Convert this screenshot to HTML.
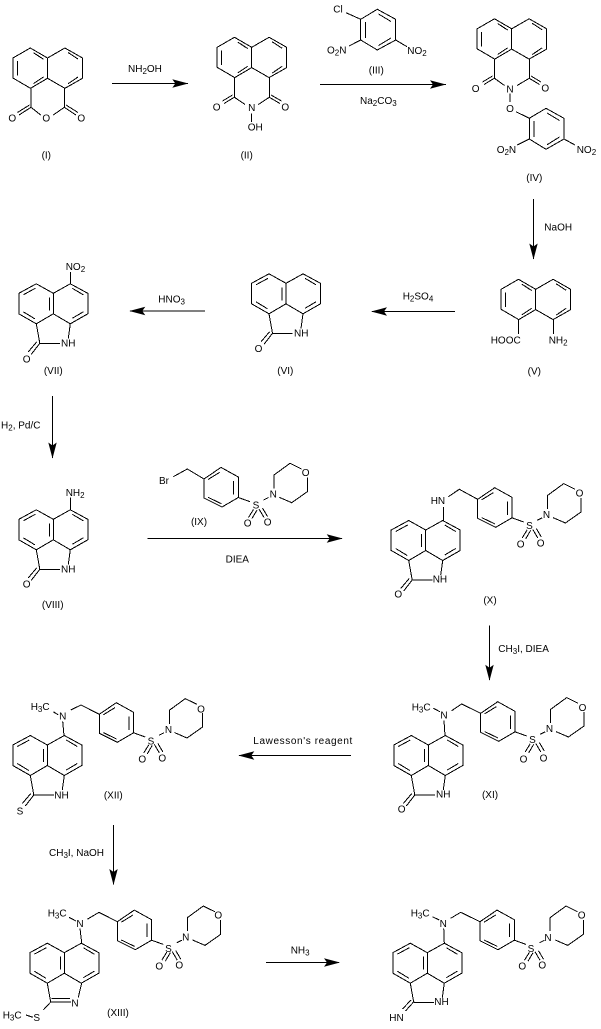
<!DOCTYPE html>
<html>
<head>
<meta charset="utf-8">
<style>
html,body{margin:0;padding:0;background:#fff;}
svg{display:block;}
line,path,polyline{stroke:#000;stroke-width:1;fill:none;shape-rendering:crispEdges;}
polygon{fill:#000;stroke:none;}
text{font-family:"Liberation Sans",sans-serif;font-size:10px;fill:#000;}
.m{text-anchor:middle;}
.s{font-size:8px;}
</style>
</head>
<body>
<svg width="601" height="1029" viewBox="0 0 601 1029" xmlns="http://www.w3.org/2000/svg">
<defs>
<g id="nap">
<path d="M-17,30.3 L-34.6,20 L-34.6,0 L-17.2,-10 L0,0 L17.4,-10 L35,0 L35,20.3 L17.4,30.3 L0,20.3 L-17,30.3"/>
<path d="M0,0 L0,20.3"/>
<path d="M-30,3 L-30,17.5 M-14,-5.3 L-4,1.3 M-14,25.6 L-4,19 M20.5,-5.5 L30.5,1 M20.5,25.8 L30.5,19"/>
</g>
<g id="benz">
<path d="M-17,30.5 L-34.5,20.5 L-34.5,0 L-17,-9.5 L0,0 L17,-9.5 L34.5,0 L34.5,20.5 L17,30.5 L0,20.5 L-17,30.5"/>
<path d="M0,0 L0,20.5 M-4,4 L-4,17"/>
<path d="M-30,1.5 L-18,-5 M-30,18.5 L-18.5,25.5 M19,-5 L30,1.5 M30,18.5 L19,25"/>
<path d="M-17,30.5 L-13.5,50"/>
</g>
<g id="lac">
<path d="M-13.5,50 L6.7,50 M17,30.5 L15,45"/>
</g>
<g id="co">
<path d="M-13.5,50 L-22,61 M-16.5,48.5 L-25,58.5"/>
</g>
<g id="mor">
<path d="M0,0 L17,-11.6 L34.3,-2 L34.3,18.5 L18,28 L0,19 Z"/>
<path d="M4,0.5 L15.7,-6.7 M29.7,2 L29.7,15.5 M4,18.3 L17.3,24.7"/>
<path d="M34.3,18.5 L46,22.7 M59.5,21 L64.5,18.5"/>
<path d="M70,9.5 L70,-4 L86,-15.7 L97.5,-10 M103.3,-1.5 L103.3,12.7 L87.7,23.7 L75.3,18.3"/>
<path d="M49.5,30.5 L44.5,38.5 M53,31 L48,39.5 M55,30 L60,38.5 M58.5,29 L63.5,37.5"/>
</g>
<polygon id="ah" points="0,0 -16,-4.2 -13,0 -16,4.2"/>
</defs>

<!-- I -->
<use href="#nap" x="47.5" y="58"/>
<path d="M31,88.3 L31,107.3 L40.7,115 M64.3,88.3 L64.3,107.3 L53.3,115"/>
<path d="M31,107.3 L19,115 M29.5,105 L17.5,112.5 M64.3,107.3 L76,115 M66,105 L78,112.5"/>
<text class="m" x="12.3" y="121.3">O</text>
<text class="m" x="46.3" y="121.3">O</text>
<text class="m" x="81.3" y="121.3">O</text>
<text class="m" x="46.3" y="158.5">(I)</text>

<!-- arrow 1 -->
<line x1="112" y1="83.5" x2="188" y2="83.5"/>
<use href="#ah" transform="translate(188.3,83.5)"/>
<text x="128" y="72">NH<tspan class="s" dy="2">2</tspan><tspan dy="-2">OH</tspan></text>

<!-- II -->
<use href="#nap" x="251.7" y="47.3"/>
<path d="M234.5,77.5 L234.5,97.3 L245,104.5 M269.3,77.5 L269.3,97.3 L258.3,104.5"/>
<path d="M234.3,97.3 L224,103.5 M232.5,95 L222.5,101 M269.3,97.3 L280,103.5 M271,95 L281.5,101"/>
<path d="M251.7,113.5 L251.7,122"/>
<text class="m" x="216.7" y="110.3">O</text>
<text class="m" x="285.3" y="110.3">O</text>
<text class="m" x="251.7" y="110.9">N</text>
<text x="247.7" y="130.7">OH</text>
<text class="m" x="246.7" y="158.5">(II)</text>

<!-- III -->
<path d="M360.7,19.3 L377.3,9.3 L395.7,19.3 L395.7,40 L377.3,50 L360.7,40 Z"/>
<path d="M365.3,22 L365.3,38 M378.5,14 L391,21.5 M378.5,45.5 L391,38"/>
<path d="M346,12.7 L360.7,19.3 M395.7,40 L407,46.7 M360.7,40 L349,46"/>
<text x="333.3" y="12.7">Cl</text>
<text x="327" y="53.5">O<tspan class="s" dy="2">2</tspan><tspan dy="-2">N</tspan></text>
<text x="407.3" y="54">NO<tspan class="s" dy="2">2</tspan></text>
<text class="m" x="376.3" y="73.5">(III)</text>

<!-- arrow 2 -->
<line x1="320" y1="84.5" x2="446" y2="84.5"/>
<use href="#ah" transform="translate(446,84.5)"/>
<text x="360" y="104">Na<tspan class="s" dy="2">2</tspan><tspan dy="-2">CO</tspan><tspan class="s" dy="2">3</tspan></text>

<!-- IV -->
<use href="#nap" x="511.7" y="28.8"/>
<path d="M494.5,59 L494.5,78.3 L504.5,85.5 M529.3,59 L529.3,78.3 L517,85.5"/>
<path d="M494.3,78.3 L484,84.5 M492.5,76 L482.5,82 M529.3,78.3 L539.5,84.5 M531,76 L541,82"/>
<path d="M510,93.5 L510,102 M516,111.7 L529.3,118.3"/>
<path d="M529.3,118.3 L546,108.3 L564,118.3 L564,139 L546,149.3 L529.3,139 Z"/>
<path d="M534,121 L534,137 M547,113 L559.5,120.5 M547,144.8 L559.5,137"/>
<path d="M564,139 L575,145 M529.3,139 L517.3,145"/>
<text class="m" x="475.7" y="92">O</text>
<text class="m" x="545.3" y="91.3">O</text>
<text class="m" x="510" y="92.3">N</text>
<text class="m" x="510" y="112">O</text>
<text x="496.7" y="153">O<tspan class="s" dy="2">2</tspan><tspan dy="-2">N</tspan></text>
<text x="576.7" y="153">NO<tspan class="s" dy="2">2</tspan></text>
<text class="m" x="534.3" y="181">(IV)</text>

<!-- NaOH arrow -->
<line x1="533.5" y1="199" x2="533.5" y2="259"/>
<use href="#ah" transform="translate(533.5,259.5) rotate(90)"/>
<text x="544.3" y="230.7">NaOH</text>

<!-- V -->
<use href="#nap" x="535.7" y="289.3"/>
<path d="M518.5,319.3 L518.5,334 M553.3,319.3 L553.3,334"/>
<text x="490.7" y="343.3">HOOC</text>
<text x="548.7" y="343.3">NH<tspan class="s" dy="2">2</tspan></text>
<text class="m" x="534.3" y="374.5">(V)</text>

<!-- H2SO4 arrow -->
<line x1="455" y1="311.5" x2="372" y2="311.5"/>
<use href="#ah" transform="translate(371,311.5) rotate(180)"/>
<text x="402.7" y="299.3">H<tspan class="s" dy="2">2</tspan><tspan dy="-2">SO</tspan><tspan class="s" dy="2">4</tspan></text>

<!-- VI -->
<use href="#benz" x="286" y="283.3"/>
<use href="#lac" x="286" y="283.3"/>
<use href="#co" x="286" y="283.3"/>
<text x="294" y="336.7">NH</text>
<text class="m" x="258.5" y="352">O</text>
<text class="m" x="285.3" y="374.2">(VI)</text>

<!-- HNO3 arrow -->
<line x1="205" y1="311" x2="130" y2="311"/>
<use href="#ah" transform="translate(129.3,311) rotate(180)"/>
<text x="158.3" y="302.7">HNO<tspan class="s" dy="2">3</tspan></text>

<!-- VII -->
<use href="#benz" x="53.3" y="293.3"/>
<use href="#lac" x="53.3" y="293.3"/>
<use href="#co" x="53.3" y="293.3"/>
<path d="M70.5,284 L70.5,272"/>
<text x="65.7" y="270">NO<tspan class="s" dy="2">2</tspan></text>
<text x="61" y="346.7">NH</text>
<text class="m" x="26.7" y="362.6">O</text>
<text class="m" x="53.3" y="374.2">(VII)</text>

<!-- H2 Pd/C arrow -->
<line x1="52.5" y1="396" x2="52.5" y2="458"/>
<use href="#ah" transform="translate(52.5,458.5) rotate(90)"/>
<text x="1" y="428.3">H<tspan class="s" dy="2">2</tspan><tspan dy="-2">, Pd/C</tspan></text>

<!-- VIII -->
<use href="#benz" x="53.3" y="519.3"/>
<use href="#lac" x="53.3" y="519.3"/>
<use href="#co" x="53.3" y="519.3"/>
<path d="M70.5,510 L70.5,497.5"/>
<text x="65.7" y="496">NH<tspan class="s" dy="2">2</tspan></text>
<text x="61" y="572.7">NH</text>
<text class="m" x="26.7" y="587.6">O</text>
<text class="m" x="52.7" y="607.8">(VIII)</text>

<!-- IX -->
<path d="M173.3,476.7 L187.3,469 L204,479"/>
<use href="#mor" x="204" y="479"/>
<text x="159" y="484">Br</text>
<text class="m" x="256" y="508.6">S</text>
<text class="m" x="273.3" y="497.6">N</text>
<text class="m" x="305.7" y="476">O</text>
<text class="m" x="247.7" y="526.3">O</text>
<text class="m" x="267.7" y="525.3">O</text>
<text class="m" x="199" y="525.2">(IX)</text>

<!-- arrow IX -->
<line x1="147.3" y1="538.5" x2="342" y2="538.5"/>
<use href="#ah" transform="translate(342.7,538.5)"/>
<text class="m" x="237.3" y="562.7">DIEA</text>

<!-- X -->
<use href="#benz" x="425.7" y="530"/>
<use href="#lac" x="425.7" y="530"/>
<use href="#co" x="425.7" y="530"/>
<path d="M443.3,507 L443.3,520.5 M448.3,496.7 L459.3,489.3 L477.7,499.3"/>
<use href="#mor" x="477.7" y="499.3"/>
<text x="430.7" y="504">HN</text>
<text x="432.7" y="582.7">NH</text>
<text class="m" x="398.3" y="597.6">O</text>
<text class="m" x="529.5" y="529">S</text>
<text class="m" x="546.5" y="518">N</text>
<text class="m" x="579.5" y="496.3">O</text>
<text class="m" x="520.7" y="547.6">O</text>
<text class="m" x="540.7" y="546.3">O</text>
<text class="m" x="490" y="603.5">(X)</text>

<!-- CH3I DIEA arrow -->
<line x1="489.5" y1="625.7" x2="489.5" y2="680"/>
<use href="#ah" transform="translate(489.5,680.7) rotate(90)"/>
<text x="498.3" y="652">CH<tspan class="s" dy="2">3</tspan><tspan dy="-2">I, DIEA</tspan></text>

<!-- XI -->
<use href="#benz" x="428.3" y="745"/>
<use href="#lac" x="428.3" y="745"/>
<use href="#co" x="428.3" y="745"/>
<path d="M433.3,708.3 L440,711.7 M444,720.7 L445,735.5 M451.7,710.7 L461.7,704 L480.7,713.3"/>
<use href="#mor" x="480.7" y="713.3"/>
<text x="411.7" y="710.7">H<tspan class="s" dy="2">3</tspan><tspan dy="-2">C</tspan></text>
<text class="m" x="444" y="718.6">N</text>
<text x="436" y="797.7">NH</text>
<text class="m" x="401.7" y="812.6">O</text>
<text class="m" x="532.5" y="743">S</text>
<text class="m" x="549.5" y="732">N</text>
<text class="m" x="582.5" y="711.2">O</text>
<text class="m" x="523.5" y="762.3">O</text>
<text class="m" x="543.5" y="761.3">O</text>
<text class="m" x="490" y="797.8">(XI)</text>

<!-- Lawesson arrow -->
<line x1="351" y1="755.5" x2="239" y2="755.5"/>
<use href="#ah" transform="translate(238.3,755.5) rotate(180)"/>
<text x="253.3" y="744" textLength="99" lengthAdjust="spacing">Lawesson's reagent</text>

<!-- XII -->
<use href="#benz" x="47.3" y="745"/>
<use href="#lac" x="47.3" y="745"/>
<use href="#co" x="47.3" y="745"/>
<path d="M53.3,711.7 L58.3,715 M62.7,721.7 L64,735.5 M70.7,710 L81,705 L99.3,714.3"/>
<use href="#mor" x="99.3" y="714.3"/>
<text x="30.7" y="710">H<tspan class="s" dy="2">3</tspan><tspan dy="-2">C</tspan></text>
<text class="m" x="62.7" y="719.6">N</text>
<text x="54.3" y="798.3">NH</text>
<text class="m" x="20" y="814.3">S</text>
<text class="m" x="151" y="744.6">S</text>
<text class="m" x="168.5" y="733">N</text>
<text class="m" x="201" y="712.6">O</text>
<text class="m" x="142.3" y="762.3">O</text>
<text class="m" x="162.3" y="761.3">O</text>
<text class="m" x="113.3" y="798.6">(XII)</text>

<!-- CH3I NaOH arrow -->
<line x1="113.5" y1="825" x2="113.5" y2="884.5"/>
<use href="#ah" transform="translate(113.5,885) rotate(90)"/>
<text x="49" y="856">CH<tspan class="s" dy="2">3</tspan><tspan dy="-2">I, NaOH</tspan></text>

<!-- XIII -->
<use href="#benz" x="64.3" y="952.7"/>
<path d="M50.7,1002 L71,1002 M51.5,998.7 L70,998.7 M81.7,983 L78.3,997.3"/>
<path d="M50.7,1002 L43.3,1010 M26,1015 L33,1017.3"/>
<path d="M69,917.3 L76,921 M80,928.3 L81.7,943 M87.3,919.3 L99,912.3 L117.3,921.7"/>
<use href="#mor" x="117.3" y="921.7"/>
<text x="47.7" y="916.7">H<tspan class="s" dy="2">3</tspan><tspan dy="-2">C</tspan></text>
<text class="m" x="80" y="926.9">N</text>
<text class="m" x="75" y="1006.3">N</text>
<text class="m" x="36.7" y="1020.9">S</text>
<text x="2.7" y="1018.3">H<tspan class="s" dy="2">3</tspan><tspan dy="-2">C</tspan></text>
<text class="m" x="168.5" y="951.9">S</text>
<text class="m" x="185.7" y="940.3">N</text>
<text class="m" x="218.3" y="918.6">O</text>
<text class="m" x="159.3" y="969.6">O</text>
<text class="m" x="179.3" y="968.6">O</text>
<text class="m" x="118" y="1015.8">(XIII)</text>

<!-- NH3 arrow -->
<line x1="266" y1="962.5" x2="339" y2="962.5"/>
<use href="#ah" transform="translate(340,962.5)"/>
<text x="290.7" y="953.3">NH<tspan class="s" dy="2">3</tspan></text>

<!-- XIV -->
<use href="#benz" x="427.3" y="952.7"/>
<use href="#lac" x="427.3" y="952.7"/>
<path d="M414,1001.5 L405.5,1011 M411,1000 L402.5,1009"/>
<path d="M432.3,916.7 L439.3,920 M443.7,928.3 L444.3,943 M450.7,918.3 L460.7,912.3 L480,921.7"/>
<use href="#mor" x="480" y="921.7"/>
<text x="410.7" y="916.7">H<tspan class="s" dy="2">3</tspan><tspan dy="-2">C</tspan></text>
<text class="m" x="443.3" y="926.9">N</text>
<text x="434.3" y="1005">NH</text>
<text x="389.3" y="1021">HN</text>
<text class="m" x="531" y="951.9">S</text>
<text class="m" x="548" y="941">N</text>
<text class="m" x="581.7" y="918.6">O</text>
<text class="m" x="522.3" y="969.6">O</text>
<text class="m" x="542.3" y="968.6">O</text>
</svg>
</body>
</html>
